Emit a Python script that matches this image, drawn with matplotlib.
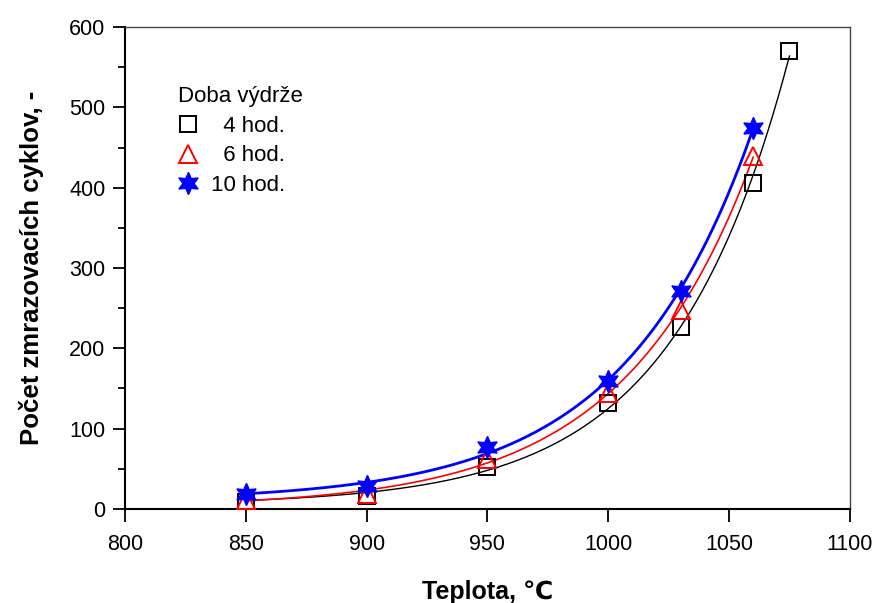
import numpy as np
import matplotlib.pyplot as plt
from matplotlib.ticker import MultipleLocator

plt.rcParams['font.family'] = ['Liberation Sans', 'DejaVu Sans']

# data
temp_4 = [850, 900, 950, 1000, 1030, 1060, 1075]
cycles_4 = [9, 16, 52, 132, 226, 406, 570]
temp_6 = [850, 900, 950, 1000, 1030, 1060]
cycles_6 = [11, 19, 62, 144, 248, 439]
temp_10 = [850, 900, 950, 1000, 1030, 1060]
cycles_10 = [18, 29, 77, 159, 272, 475]


def exp_fit(x, y):
    # y = c + a*exp(b*(x-850)), grid search over b, least squares for a, c
    x = np.asarray(x, float)
    y = np.asarray(y, float)
    best = None
    for b in np.linspace(0.005, 0.05, 2000):
        A = np.column_stack([np.ones_like(x), np.exp(b * (x - 850))])
        coef, *_ = np.linalg.lstsq(A, y, rcond=None)
        err = np.sum((A @ coef - y) ** 2)
        if best is None or err < best[0]:
            best = (err, b, coef)
    _, b, coef = best
    return lambda t: coef[0] + coef[1] * np.exp(b * (t - 850))


fig = plt.figure(figsize=(8.77, 6.03), dpi=100)
ax = fig.add_axes([0.1425, 0.156, 0.8265, 0.799])

series = [
    (temp_4, cycles_4, 'black', 1.0, dict(marker='s', mfc='none', mec='black', ms=11.5, mew=1.4), '  4 hod.'),
    (temp_6, cycles_6, 'red', 1.2, dict(marker='^', mfc='none', mec='red', ms=13, mew=1.4), '  6 hod.'),
    (temp_10, cycles_10, 'blue', 2.0, dict(marker=(6, 1, 0), mfc='blue', mec='blue', ms=16, mew=1), '10 hod.'),
]

for x, y, col, lw, mk, lab in series:
    f = exp_fit(x, y)
    xs = np.linspace(x[0], x[-1], 300)
    ax.plot(xs, f(xs), color=col, lw=lw, zorder=2)
    ax.plot(x, y, ls='none', label=lab, zorder=3, **mk)

ax.set_xlim(800, 1100)
ax.set_ylim(0, 600)
ax.xaxis.set_major_locator(MultipleLocator(50))
ax.yaxis.set_major_locator(MultipleLocator(100))
ax.yaxis.set_minor_locator(MultipleLocator(50))
ax.tick_params(axis='both', which='major', direction='out', length=9, width=1.3, labelsize=15.5)
ax.tick_params(axis='y', which='minor', direction='out', length=5, width=1.3)
ax.tick_params(axis='x', pad=9)
ax.tick_params(axis='y', pad=5)
ax.tick_params(top=False, right=False)

for side in ['left', 'bottom']:
    ax.spines[side].set_linewidth(1.5)
for side in ['top', 'right']:
    ax.spines[side].set_linewidth(1.0)
    ax.spines[side].set_color('#444444')

ax.set_xlabel('Teplota, \u2103', fontsize=18, fontweight='bold', labelpad=18)
ax.set_ylabel('Počet zmrazovacích cyklov, -', fontsize=18.5, fontweight='bold', labelpad=18)

leg = ax.legend(title='Doba výdrže', loc='upper left', bbox_to_anchor=(0.058, 0.9),
                frameon=False, fontsize=16, title_fontsize=16, handletextpad=0.6,
                labelspacing=0.38, handlelength=0.9, borderpad=0)
leg._legend_box.align = 'left'

fig.savefig('out.png', dpi=100)
